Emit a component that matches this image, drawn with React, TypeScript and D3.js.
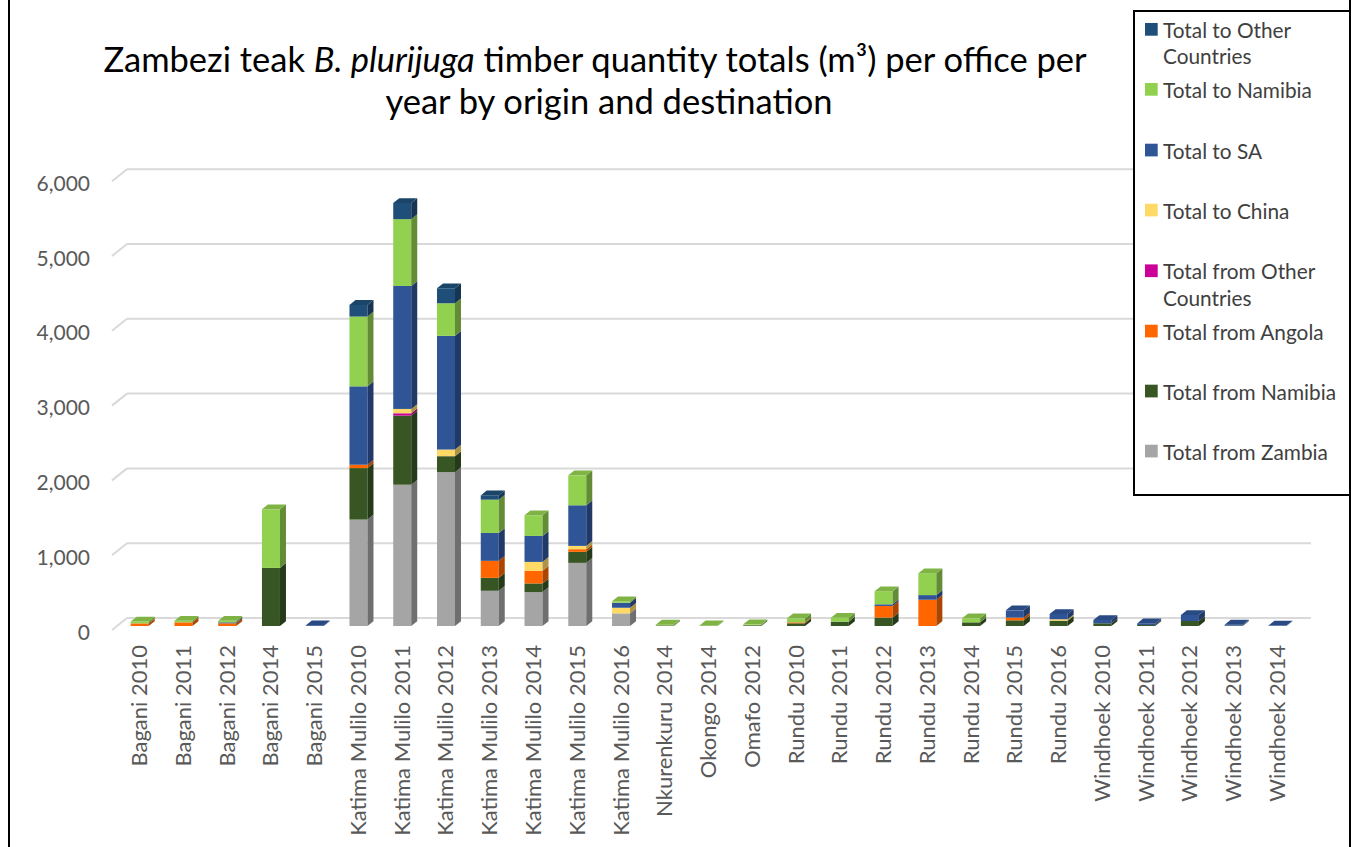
import React from "react";
import * as d3 from "d3";

const categories = [
  "Bagani 2010", "Bagani 2011", "Bagani 2012", "Bagani 2014", "Bagani 2015",
  "Katima Mulilo 2010", "Katima Mulilo 2011", "Katima Mulilo 2012", "Katima Mulilo 2013",
  "Katima Mulilo 2014", "Katima Mulilo 2015", "Katima Mulilo 2016", "Nkurenkuru 2014",
  "Okongo 2014", "Omafo 2012", "Rundu 2010", "Rundu 2011", "Rundu 2012", "Rundu 2013",
  "Rundu 2014", "Rundu 2015", "Rundu 2016", "Windhoek 2010", "Windhoek 2011",
  "Windhoek 2012", "Windhoek 2013", "Windhoek 2014",
];

const fromZambia = [0, 0, 0, 0, 0, 1423, 1889, 2057, 471, 453, 844, 169, 0, 0, 0, 0, 0, 0, 0, 0, 0, 0, 0, 0, 0, 0, 0];
const fromNamibia = [0, 0, 0, 777, 0, 688, 924, 213, 173, 116, 147, 0, 8, 3, 10, 36, 58, 113, 0, 49, 76, 71, 36, 13, 67, 5, 0];
const fromAngola = [35, 49, 36, 0, 0, 45, 0, 0, 227, 168, 36, 0, 0, 0, 0, 13, 0, 155, 351, 0, 36, 0, 0, 0, 0, 0, 0];
const fromOther = [0, 0, 0, 0, 0, 0, 31, 0, 0, 0, 0, 0, 0, 0, 0, 0, 0, 0, 0, 0, 0, 0, 0, 0, 0, 0, 0];
const toChina = [0, 0, 0, 0, 0, 0, 58, 89, 0, 120, 44, 75, 0, 0, 0, 0, 0, 0, 0, 0, 0, 19, 0, 0, 0, 0, 0];
const toSA = [0, 0, 13, 0, 8, 1048, 1644, 1520, 373, 347, 543, 67, 0, 0, 0, 0, 0, 22, 62, 0, 97, 71, 44, 22, 80, 13, 6];
const toNamibia = [25, 21, 20, 783, 0, 933, 893, 436, 445, 276, 400, 20, 10, 5, 12, 53, 53, 175, 293, 53, 0, 0, 0, 0, 0, 0, 0];
const toOther = [0, 0, 0, 0, 0, 156, 217, 200, 57, 0, 0, 0, 0, 0, 0, 0, 0, 0, 0, 0, 0, 0, 0, 0, 0, 0, 0];

const seriesNames = [
  "Total from Zambia", "Total from Namibia", "Total from Angola", "Total from Other Countries",
  "Total to China", "Total to SA", "Total to Namibia", "Total to Other Countries",
];
const seriesValues = [fromZambia, fromNamibia, fromAngola, fromOther, toChina, toSA, toNamibia, toOther];
const seriesColors = ["#A5A5A5", "#375623", "#FF6600", "#CC0099", "#FFD966", "#2F5597", "#92D050", "#1F4E79"];

const yTicks = [0, 1000, 2000, 3000, 4000, 5000, 6000];

// legend (top to bottom) with line breaks
const legendItems = [
  { s: 7, lines: ["Total to Other", "Countries"], y: 29.3 },
  { s: 6, lines: ["Total to Namibia"], y: 89.3 },
  { s: 5, lines: ["Total to SA"], y: 150 },
  { s: 4, lines: ["Total to China"], y: 210 },
  { s: 3, lines: ["Total from Other", "Countries"], y: 270.7 },
  { s: 2, lines: ["Total from Angola"], y: 331 },
  { s: 1, lines: ["Total from Namibia"], y: 391 },
  { s: 0, lines: ["Total from Zambia"], y: 451 },
];

const FONT = "Lato, 'Open Sans', sans-serif";

export default function App() {
  const W = 1357, H = 847;
  const k = 0.0748; // px per unit
  const yFront = d3.scaleLinear().domain([0, 6000]).range([630, 630 - 6000 * k]);
  const yBack = d3.scaleLinear().domain([0, 6000]).range([618, 618 - 6000 * k]);
  const yBar = d3.scaleLinear().domain([0, 6000]).range([626, 626 - 6000 * k]);
  const x = d3.scalePoint<string>().domain(categories).range([117.8, 1299.3]).padding(0.5);
  const barW = 18;
  const dx = 6, dy = -4.8;
  const fmt = d3.format(",");

  const bars: React.ReactNode[] = [];
  categories.forEach((c, i) => {
    const cx = x(c)!;
    const x0 = cx - barW / 2, x1 = cx + barW / 2;
    let acc = 0;
    let topIdx = -1;
    seriesValues.forEach((arr, s) => { if (arr[i] > 0) topIdx = s; });
    seriesValues.forEach((arr, s) => {
      const v = arr[i];
      if (!(v > 0)) return;
      const yb = yBar(acc), yt = yBar(acc + v);
      acc += v;
      const col = d3.color(seriesColors[s])!;
      const side = col.darker(1.1).formatHex();
      const top = col.darker(0.4).formatHex();
      bars.push(
        <g key={`${i}-${s}`}>
          <rect x={x0} y={yt} width={barW} height={Math.max(0, yb - yt)} fill={seriesColors[s]} />
          <polygon
            points={`${x1},${yb} ${x1 + dx},${yb + dy} ${x1 + dx},${yt + dy} ${x1},${yt}`}
            fill={side}
          />
          {s === topIdx && (
            <polygon
              points={`${x0},${yt} ${x1},${yt} ${x1 + dx},${yt + dy} ${x0 + dx},${yt + dy}`}
              fill={top}
            />
          )}
        </g>
      );
    });
  });

  return (
    <svg width={W} height={H} style={{ position: "absolute", left: 0, top: 0, background: "#fff" }}>
      <rect x={0} y={0} width={W} height={H} fill="#fff" />
      {/* outer chart border */}
      <line x1={9} y1={0} x2={9} y2={H} stroke="#000" strokeWidth={2} />
      <line x1={1350} y1={0} x2={1350} y2={H} stroke="#000" strokeWidth={2} />

      {/* title */}
      <text x={595} y={72} textAnchor="middle" fontFamily={FONT} fontSize={34.5} fill="#000">
        Zambezi teak <tspan fontStyle="italic">B. plurijuga</tspan> timber quantity totals (m³) per office per
      </text>
      <text x={609} y={114} textAnchor="middle" fontFamily={FONT} fontSize={34.5} fill="#000">
        year by origin and destination
      </text>

      {/* wall gridlines */}
      {yTicks.map((t) => (
        <g key={t}>
          <line x1={127} x2={1311} y1={yBack(t)} y2={yBack(t)} stroke="#D9D9D9" strokeWidth={2} />
          <line x1={112} x2={127} y1={yFront(t)} y2={yBack(t)} stroke="#D9D9D9" strokeWidth={2} />
          <text x={90} y={yFront(t) + 1} textAnchor="end" dominantBaseline="central"
            fontFamily={FONT} fontSize={21} fill="#595959">{fmt(t)}</text>
        </g>
      ))}

      {bars}

      {/* category labels */}
      {categories.map((c) => (
        <text key={c} transform={`translate(${x(c)! - 1},645) rotate(-90)`} textAnchor="end"
          dominantBaseline="central" fontFamily={FONT} fontSize={22} fill="#595959">{c}</text>
      ))}

      {/* legend */}
      <rect x={1134} y={11} width={216} height={484} fill="#fff" stroke="#000" strokeWidth={2} />
      {legendItems.map((it) => (
        <g key={it.s}>
          <rect x={1145} y={it.y - 6.3} width={12.7} height={12.7} fill={seriesColors[it.s]} />
          {it.lines.map((ln, j) => (
            <text key={j} x={1163} y={it.y + j * 26.5} dominantBaseline="central"
              fontFamily={FONT} fontSize={20.8} fill="#404040">{ln}</text>
          ))}
        </g>
      ))}
    </svg>
  );
}
